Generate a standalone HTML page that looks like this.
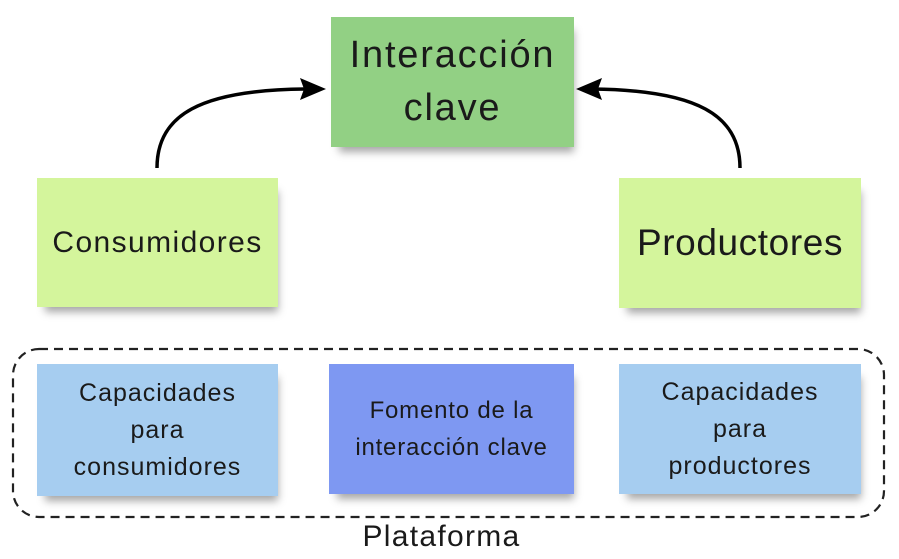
<!DOCTYPE html>
<html><head><meta charset="utf-8"><style>
html,body{margin:0;padding:0;background:#fff;}
body{width:899px;height:559px;position:relative;overflow:hidden;font-family:"Liberation Sans","DejaVu Sans",sans-serif;color:#1a1a1a;}
.n{position:absolute;display:flex;align-items:center;justify-content:center;text-align:center;box-shadow:4px 9px 8px -4px rgba(0,0,0,0.35);}
.t{position:absolute;left:0;width:899px;text-align:center;}
</style></head><body>
<svg width="899" height="559" style="position:absolute;left:0;top:0">
<rect x="13" y="349" width="871" height="168" rx="26" ry="26" fill="none" stroke="#222" stroke-width="2.2" stroke-dasharray="9,6"/>
<path d="M157,168 C157,115 200,90 305,89" fill="none" stroke="#000" stroke-width="3.5"/>
<polygon points="326,89 300,78 304,89 300,100" fill="#000"/>
<path d="M740,168 C740,115 697,90 592,89" fill="none" stroke="#000" stroke-width="3.5"/>
<polygon points="576,89 602,78 598,89 602,100" fill="#000"/>
</svg>
<div class="n" style="left:331px;top:17px;width:243px;height:130px;background:#92d084;font-size:38px;letter-spacing:1.8px;line-height:53px;">Interacción<br>clave</div>
<div class="n" style="left:37px;top:178px;width:241px;height:129px;background:#d4f59c;font-size:30px;letter-spacing:1.4px;">Consumidores</div>
<div class="n" style="left:619px;top:178px;width:242px;height:130px;background:#d4f59c;font-size:37px;letter-spacing:0.6px;">Productores</div>
<div class="n" style="left:37px;top:364px;width:241px;height:132px;background:#a6cdf0;font-size:25px;letter-spacing:1px;line-height:37px;">Capacidades<br>para<br>consumidores</div>
<div class="n" style="left:329px;top:364px;width:245px;height:130px;background:#7e98f2;font-size:24px;letter-spacing:0.8px;line-height:37px;">Fomento de la<br>interacción clave</div>
<div class="n" style="left:619px;top:364px;width:242px;height:130px;background:#a6cdf0;font-size:25px;letter-spacing:1px;line-height:37px;">Capacidades<br>para<br>productores</div>
<div class="t" style="top:520px;font-size:30px;letter-spacing:1.3px;left:-8px;">Plataforma</div>
</body></html>
